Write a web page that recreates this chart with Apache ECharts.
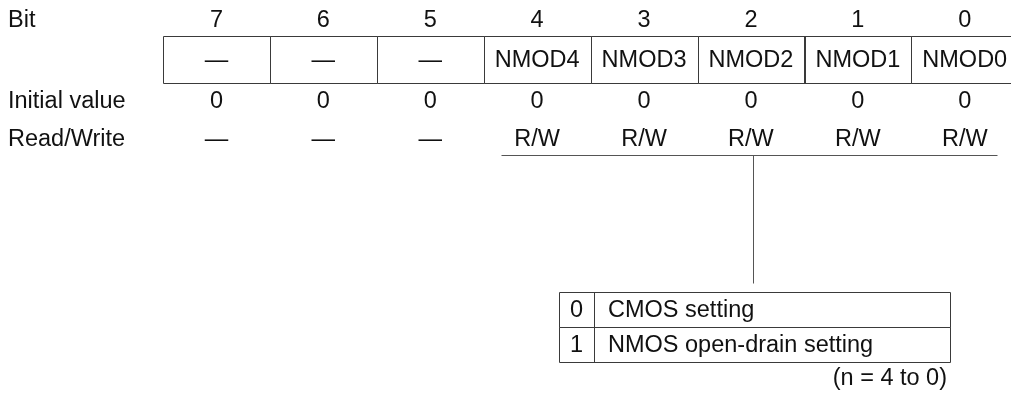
<!DOCTYPE html>
<html><head><meta charset="utf-8">
<script src="https://cdn.jsdelivr.net/npm/echarts@6/dist/echarts.min.js"></script>
<style>html,body{margin:0;padding:0;background:#fff}#c{width:1011px;height:393px}</style>
</head><body><div id="c"></div>
<script>
// ---- data ----
var bits = ['7', '6', '5', '4', '3', '2', '1', '0'];
var fieldNames = ['—', '—', '—', 'NMOD4', 'NMOD3', 'NMOD2', 'NMOD1', 'NMOD0'];
var initialValues = ['0', '0', '0', '0', '0', '0', '0', '0'];
var readWrite = ['—', '—', '—', 'R/W', 'R/W', 'R/W', 'R/W', 'R/W'];
var rowLabels = ['Bit', 'Initial value', 'Read/Write'];
var settingCodes = ['0', '1'];
var settingTexts = ['CMOS setting', 'NMOS open-drain setting'];
var noteText = '(n = 4 to 0)';

// ---- layout (in axis units: x = column index, y = pixel rows) ----
var X0 = 163, CW = 106.9, W = 1011, H = 393;
var FONT = 'Liberation Sans, Arial, sans-serif';
var FS = 23.5;
var TXT = '#111', LINE = '#3a3a3a';
var L = {
  labelX: -155 / CW,
  bitY: 21, boxTop: 36, boxBot: 83, boxTextY: 60.5, initY: 102, rwY: 140,
  brY: 155, brX1: 3 + 17 / CW, brX2: 8 - 21 / CW, stemX: 5.5 + 2.5 / CW, stemBot: 283,
  tL: (559 - X0) / CW, tR: (950 - X0) / CW, tDiv: (594 - X0) / CW,
  tTop: 292, tMid: 327, tBot: 362, descX: (608 - X0) / CW,
  noteX: (947 - X0) / CW, noteY: 379
};

var chart = echarts.init(document.getElementById('c'), null, {renderer: 'canvas'});

function txt(api, x, y, s, align) {
  var p = api.coord([x, y]);
  return {type: 'text', x: p[0], y: p[1], style: {text: s, fill: TXT, font: FS + 'px ' + FONT, align: align || 'center', verticalAlign: 'middle'}};
}
function line(api, x1, y1, x2, y2, color) {
  var a = api.coord([x1, y1]), b = api.coord([x2, y2]);
  return {type: 'line', shape: {x1: Math.round(a[0]) + 0.5, y1: Math.round(a[1]) + 0.5, x2: Math.round(b[0]) + 0.5, y2: Math.round(b[1]) + 0.5}, style: {stroke: color || LINE, lineWidth: 1}};
}
function rect(api, x1, y1, x2, y2) {
  var a = api.coord([x1, y1]), b = api.coord([x2, y2]);
  var x = Math.round(a[0]) + 0.5, y = Math.round(a[1]) + 0.5;
  return {type: 'rect', shape: {x: x, y: y, width: Math.round(b[0] - a[0]), height: Math.round(b[1] - a[1])}, style: {fill: 'none', stroke: LINE, lineWidth: 1}};
}

// one data item per bit column
var regData = bits.map(function (b, i) { return [i, b, fieldNames[i], initialValues[i], readWrite[i]]; });

chart.setOption({
  animation: false,
  grid: {left: 0, right: 0, top: 0, bottom: 0},
  xAxis: {type: 'value', min: -X0 / CW, max: (W - X0) / CW, show: false},
  yAxis: {type: 'value', min: 0, max: H, inverse: true, show: false},
  series: [
    {
      type: 'custom', coordinateSystem: 'cartesian2d', clip: false,
      data: regData,
      renderItem: function (params, api) {
        var i = api.value(0);
        var d = regData[params.dataIndex];
        return {type: 'group', children: [
          rect(api, i, L.boxTop, i + 1, L.boxBot),
          txt(api, i + 0.5, L.bitY, d[1]),
          txt(api, i + 0.5, L.boxTextY, d[2]),
          txt(api, i + 0.5, L.initY, d[3]),
          txt(api, i + 0.5, L.rwY, d[4])
        ]};
      }
    },
    {
      type: 'custom', coordinateSystem: 'cartesian2d', clip: false,
      data: rowLabels.map(function (s, i) { return [i]; }),
      renderItem: function (params, api) {
        var ys = [L.bitY, L.initY, L.rwY];
        return txt(api, L.labelX, ys[params.dataIndex], rowLabels[params.dataIndex], 'left');
      }
    },
    {
      type: 'custom', coordinateSystem: 'cartesian2d', clip: false,
      data: [[0]],
      renderItem: function (params, api) {
        return {type: 'group', children: [
          line(api, L.brX1, L.brY, L.brX2, L.brY, '#555'),
          line(api, L.stemX, L.brY, L.stemX, L.stemBot, '#555'),
          txt(api, L.noteX, L.noteY, noteText, 'right')
        ]};
      }
    },
    {
      type: 'custom', coordinateSystem: 'cartesian2d', clip: false,
      data: settingCodes.map(function (c, i) { return [i]; }),
      renderItem: function (params, api) {
        var i = params.dataIndex;
        var top = i === 0 ? L.tTop : L.tMid, bot = i === 0 ? L.tMid : L.tBot;
        return {type: 'group', children: [
          rect(api, L.tL, top, L.tR, bot),
          line(api, L.tDiv, top, L.tDiv, bot),
          txt(api, (L.tL + L.tDiv) / 2, (top + bot) / 2 + 1.5, settingCodes[i]),
          txt(api, L.descX, (top + bot) / 2 + 1.5, settingTexts[i], 'left')
        ]};
      }
    }
  ]
});
</script></body></html>
